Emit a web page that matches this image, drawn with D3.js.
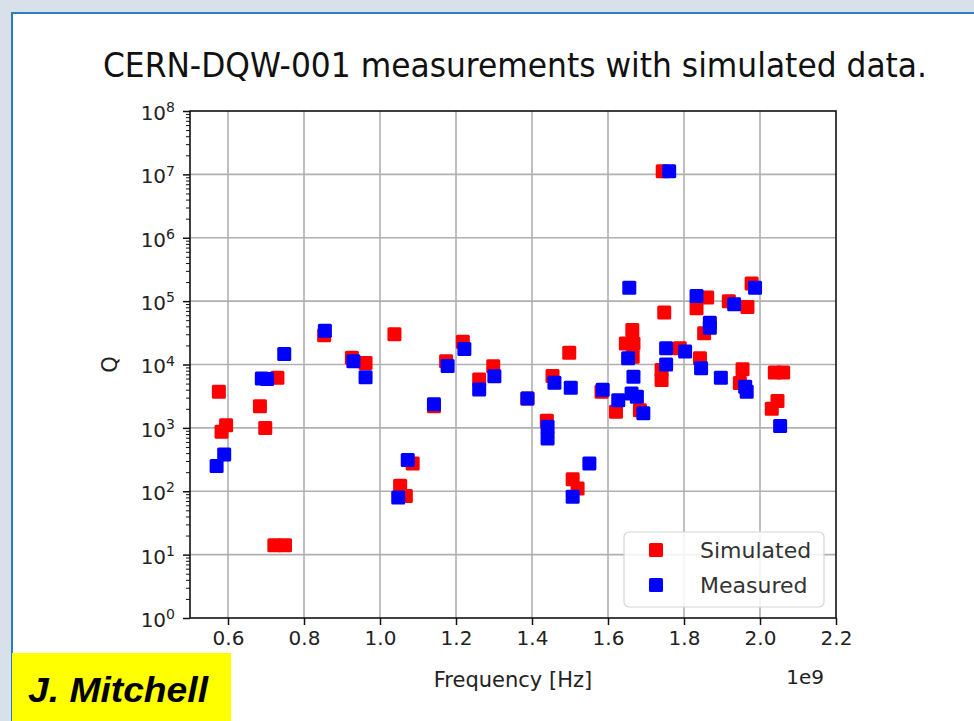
<!DOCTYPE html>
<html>
<head>
<meta charset="utf-8">
<script src="https://cdn.jsdelivr.net/npm/d3@7/dist/d3.min.js"></script>
<style>
  html, body { margin: 0; padding: 0; background: #d8e1e9; }
  svg { display: block; }
</style>
</head>
<body>
<svg id="chart" width="974" height="721"></svg>
<script>
// Resonance frequencies (in units of 1e9 Hz) and quality factors
const simFreq = [0.576, 0.583, 0.595, 0.684, 0.698, 0.730, 0.722, 0.750, 0.853, 0.926,
  0.962, 1.038, 1.053, 1.068, 1.086, 1.142, 1.174, 1.218, 1.261, 1.298,
  1.388, 1.439, 1.454, 1.498, 1.507, 1.520, 1.583, 1.621, 1.647, 1.664,
  1.667, 1.665, 1.684, 1.741, 1.741, 1.744, 1.748, 1.789, 1.842, 1.833,
  1.861, 1.853, 1.918, 1.967, 1.978, 1.954, 1.947, 2.039, 2.061, 2.046, 2.031];
const simQ = [3700, 870, 1100, 2200, 1000, 6200, 14, 14, 29000, 12800,
  10600, 30000, 122, 84, 275, 2200, 11300, 22800, 5800, 9400,
  2900, 1300, 6600, 15300, 154, 111, 3700, 1800, 21500, 35000,
  21500, 13200, 1900, 5700, 8200, 1.12e7, 66000, 18000, 12500, 77000,
  114000, 31000, 100000, 81000, 190000, 8400, 5100, 7500, 7500, 2650, 2000];

const measFreq = [0.570, 0.590, 0.689, 0.703, 0.748, 0.855, 0.930, 0.962, 1.048, 1.073,
  1.142, 1.178, 1.222, 1.261, 1.301, 1.388, 1.441, 1.441, 1.459, 1.502,
  1.507, 1.551, 1.586, 1.627, 1.656, 1.653, 1.667, 1.662, 1.676, 1.693,
  1.761, 1.753, 1.753, 1.803, 1.833, 1.845, 1.868, 1.868, 1.897, 1.932,
  1.987, 1.961, 1.965, 2.053];
const measQ = [250, 380, 6000, 5900, 14600, 34000, 11300, 6300, 80, 310,
  2350, 9500, 17500, 4050, 6500, 2900, 1040, 680, 5150, 4300,
  82, 275, 4000, 2740, 162000, 12500, 6400, 3500, 3100, 1700,
  1.12e7, 18000, 10000, 16000, 121000, 8700, 45500, 38000, 6200, 89000,
  162000, 4450, 3710, 1070];

const xTicks = [0.6, 0.8, 1.0, 1.2, 1.4, 1.6, 1.8, 2.0, 2.2];
const yExponents = [0, 1, 2, 3, 4, 5, 6, 7, 8];
const seriesNames = ["Simulated", "Measured"];
const seriesColors = ["#ff0000", "#0000ff"];
const titleText = "CERN-DQW-001 measurements with simulated data.";
const xLabel = "Frequency [Hz]";
const yLabel = "Q";
const offsetText = "1e9";
const authorText = "J. Mitchell";

const svg = d3.select("#chart");
const font = "'DejaVu Sans', sans-serif";
const textColor = "#222";

// Slide frame
svg.append("rect").attr("x", 0).attr("y", 0).attr("width", 974).attr("height", 721).attr("fill", "#d8e1e9");
svg.append("rect").attr("x", 12).attr("y", 13).attr("width", 980).attr("height", 730)
  .attr("fill", "#ffffff").attr("stroke", "#2e7cc0").attr("stroke-width", 2);

const plot = { left: 190, right: 836, top: 111, bottom: 618 };

const x = d3.scaleLinear().domain([0.5, 2.2]).range([plot.left, plot.right]);
const y = d3.scaleLog().domain([1, 1e8]).range([plot.bottom, plot.top]);

// Grid
const grid = svg.append("g").attr("stroke", "#b0b0b0").attr("stroke-width", 1.6);
xTicks.filter(t => t < 2.2).forEach(t => {
  grid.append("line").attr("x1", x(t)).attr("x2", x(t)).attr("y1", plot.top).attr("y2", plot.bottom);
});
yExponents.filter(e => e > 0 && e < 8).forEach(e => {
  grid.append("line").attr("x1", plot.left).attr("x2", plot.right).attr("y1", y(Math.pow(10, e))).attr("y2", y(Math.pow(10, e)));
});

// Markers: simulated first, measured drawn over them
const size = 14;
function drawSeries(freqs, qs, color) {
  svg.append("g").selectAll("rect")
    .data(freqs.map((f, i) => ({ f, q: qs[i] })))
    .join("rect")
    .attr("x", d => x(d.f) - size / 2)
    .attr("y", d => y(d.q) - size / 2)
    .attr("width", size).attr("height", size)
    .attr("rx", 1.5)
    .attr("fill", color);
}
drawSeries(simFreq, simQ, seriesColors[0]);
drawSeries(measFreq, measQ, seriesColors[1]);

// X axis
const xAxis = d3.axisBottom(x).tickValues(xTicks).tickSize(7).tickPadding(6)
  .tickFormat(d3.format(".1f"));
const gx = svg.append("g").attr("transform", `translate(0,${plot.bottom})`).call(xAxis);
gx.select(".domain").remove();
gx.selectAll(".tick line").attr("stroke", "#111").attr("stroke-width", 1.5);
gx.selectAll(".tick text").attr("font-family", font).attr("font-size", 20).attr("fill", textColor);

// Y axis: major decades plus minor ticks
const minor = [];
yExponents.slice(0, -1).forEach(e => { for (let m = 2; m <= 9; m++) minor.push(m * Math.pow(10, e)); });
const gyMinor = svg.append("g").attr("transform", `translate(${plot.left},0)`)
  .call(d3.axisLeft(y).tickValues(minor).tickSize(4).tickFormat(""));
gyMinor.select(".domain").remove();
gyMinor.selectAll(".tick line").attr("stroke", "#111").attr("stroke-width", 1);

const gy = svg.append("g").attr("transform", `translate(${plot.left},0)`)
  .call(d3.axisLeft(y).tickValues(yExponents.map(e => Math.pow(10, e))).tickSize(7).tickPadding(8).tickFormat(""));
gy.select(".domain").remove();
gy.selectAll(".tick line").attr("stroke", "#111").attr("stroke-width", 1.5);
gy.selectAll(".tick").each(function (d) {
  const e = Math.round(Math.log10(d));
  const t = d3.select(this).append("text")
    .attr("x", -15).attr("dy", "0.42em")
    .attr("text-anchor", "end")
    .attr("font-family", font).attr("font-size", 20).attr("fill", textColor);
  t.append("tspan").text("10");
  t.append("tspan").attr("dy", "-0.55em").attr("font-size", 14).text(e);
});

// Spines
svg.append("rect").attr("x", plot.left).attr("y", plot.top)
  .attr("width", plot.right - plot.left).attr("height", plot.bottom - plot.top)
  .attr("fill", "none").attr("stroke", "#111").attr("stroke-width", 1.6);

// Title and labels
svg.append("text").attr("x", 103).attr("y", 77)
  .attr("font-family", font).attr("font-size", 33)
  .attr("textLength", 824).attr("lengthAdjust", "spacingAndGlyphs")
  .attr("fill", "#111").text(titleText);
svg.append("text").attr("x", (plot.left + plot.right) / 2).attr("y", 687)
  .attr("text-anchor", "middle").attr("font-family", font).attr("font-size", 21)
  .attr("fill", textColor).text(xLabel);
svg.append("text").attr("x", plot.right - 12).attr("y", 684)
  .attr("text-anchor", "end").attr("font-family", font).attr("font-size", 20)
  .attr("fill", textColor).text(offsetText);
svg.append("text").attr("transform", `translate(117,${(plot.top + plot.bottom) / 2}) rotate(-90)`)
  .attr("text-anchor", "middle").attr("font-family", font).attr("font-size", 21)
  .attr("fill", textColor).text(yLabel);

// Legend
const legend = svg.append("g");
legend.append("rect").attr("x", 624).attr("y", 532).attr("width", 200).attr("height", 75)
  .attr("rx", 5).attr("fill", "#ffffff").attr("fill-opacity", 0.85)
  .attr("stroke", "#d6d6d6").attr("stroke-width", 1.2);
seriesNames.forEach((name, i) => {
  const cy = 550 + i * 35;
  legend.append("rect").attr("x", 656 - 7).attr("y", cy - 7).attr("width", 14).attr("height", 14)
    .attr("rx", 1.5).attr("fill", seriesColors[i]);
  legend.append("text").attr("x", 700).attr("y", cy).attr("dy", "0.36em")
    .attr("font-family", font).attr("font-size", 22).attr("fill", "#333").text(name);
});

// Author tag
svg.append("rect").attr("x", 12).attr("y", 653).attr("width", 219).attr("height", 70).attr("fill", "#ffff00");
svg.append("text").attr("x", 28).attr("y", 702)
  .attr("font-family", "'Liberation Sans', Arial, sans-serif").attr("font-size", 35)
  .attr("font-weight", "bold").attr("font-style", "italic").attr("fill", "#000")
  .attr("textLength", 180).attr("lengthAdjust", "spacingAndGlyphs").text(authorText);
</script>
</body>
</html>
